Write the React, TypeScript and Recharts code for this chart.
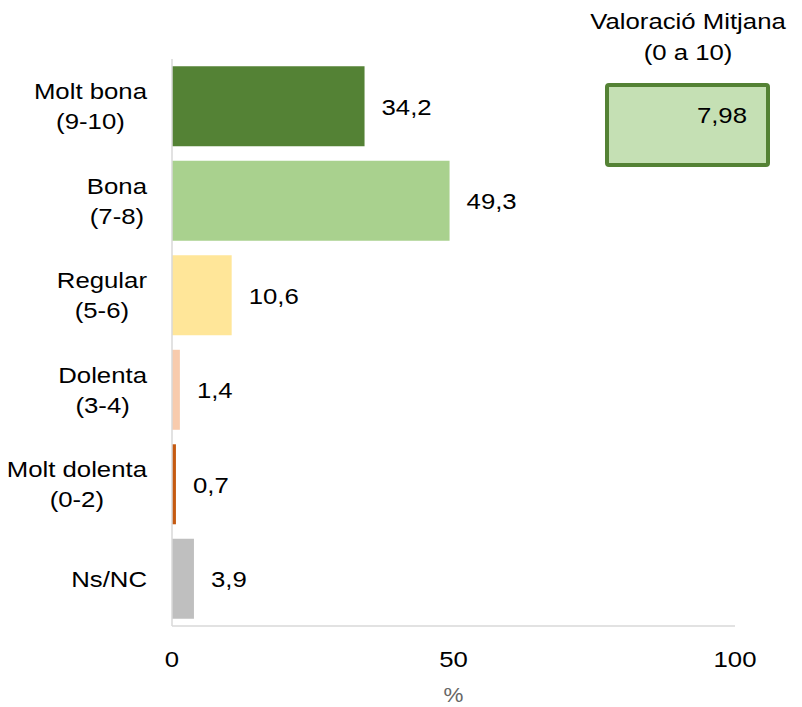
import { BarChart, Bar, XAxis, YAxis, Cell, LabelList } from 'recharts';

const categories = ['Molt bona\n(9-10)', 'Bona\n(7-8)', 'Regular\n(5-6)', 'Dolenta\n(3-4)', 'Molt dolenta\n(0-2)', 'Ns/NC'];
const percentages = [34.2, 49.3, 10.6, 1.4, 0.7, 3.9];
const barColors = ['#548235', '#A9D18E', '#FFE699', '#F8CBAD', '#C55A11', '#BFBFBF'];
const xTicks = [0, 50, 100];
const averageTitle = ['Valoració Mitjana', '(0 a 10)'];
const averageValue = 7.98;

const FONT = '"Liberation Sans", Arial, sans-serif';
const FS = 23;
const SX = 1.12; // text in the original is a bit wider than plain Arial
const CAP = 0.358 * FS;

const data = categories.map((name, i) => ({ name, value: percentages[i] }));

const fmt = (v: number, digits = 1) => v.toFixed(digits).replace('.', ',');

let ctx: CanvasRenderingContext2D | null = null;
const measure = (s: string) => {
  if (!ctx) ctx = document.createElement('canvas').getContext('2d');
  if (!ctx) return s.length * 11;
  ctx.font = `${FS}px ${FONT}`;
  return ctx.measureText(s).width;
};

const Txt = ({ x, y, anchor = 'start', children, fill = '#000', size = FS }: any) => (
  <text
    transform={`translate(${x} ${y}) scale(${SX} 1)`}
    textAnchor={anchor}
    fontSize={size}
    fontFamily={FONT}
    fill={fill}
  >
    {children}
  </text>
);

const CategoryTick = ({ y, payload }: any) => {
  const lines = String(payload.value).split('\n');
  const maxW = Math.max(...lines.map(measure)) * SX;
  const cx = 147 - maxW / 2;
  const step = 30;
  const start = -((lines.length - 1) * step) / 2;
  return (
    <g>
      {lines.map((l, i) => (
        <Txt key={i} x={cx} y={y + start + i * step + CAP} anchor="middle">
          {l}
        </Txt>
      ))}
    </g>
  );
};

const NumberTick = ({ x, payload }: any) => (
  <Txt x={x} y={667} anchor="middle">
    {payload.value}
  </Txt>
);

const ValueLabel = ({ x, y, width, height, value }: any) => (
  <Txt x={x + width + 17} y={y + height / 2 + CAP}>
    {fmt(Number(value))}
  </Txt>
);

const PercentLabel = ({ viewBox }: any) => (
  <Txt x={viewBox.x + viewBox.width / 2} y={702} anchor="middle" fill="#666" size={20}>
    %
  </Txt>
);

export default function App() {
  return (
    <div style={{ position: 'absolute', left: 0, top: 0, width: 802, height: 707, background: '#fff' }}>
      <BarChart
        layout="vertical"
        width={802}
        height={707}
        data={data}
        margin={{ top: 59, right: 67, bottom: 21, left: 0 }}
        barCategoryGap="7.7%"
      >
        <XAxis
          type="number"
          domain={[0, 100]}
          ticks={xTicks}
          axisLine={{ stroke: '#D9D9D9', strokeWidth: 1.5 }}
          tickLine={false}
          height={60}
          tick={<NumberTick />}
          label={<PercentLabel />}
        />
        <YAxis
          type="category"
          dataKey="name"
          width={172}
          axisLine={{ stroke: '#D9D9D9', strokeWidth: 1.5 }}
          tickLine={false}
          tick={<CategoryTick />}
        />
        <Bar dataKey="value" isAnimationActive={false}>
          {data.map((_, i) => (
            <Cell key={`cell-${i}`} fill={barColors[i]} />
          ))}
          <LabelList dataKey="value" content={<ValueLabel />} />
        </Bar>
      </BarChart>

      {/* Average score box */}
      <svg width={802} height={180} style={{ position: 'absolute', left: 0, top: 0 }}>
        {averageTitle.map((t, i) => (
          <Txt key={t} x={688} y={29 + i * 31} anchor="middle">
            {t}
          </Txt>
        ))}
        <rect x={607} y={85} width={161} height={80} rx={2} fill="#C5E0B4" stroke="#548235" strokeWidth={4} />
        <Txt x={747} y={123} anchor="end">
          {fmt(averageValue, 2)}
        </Txt>
      </svg>
    </div>
  );
}
